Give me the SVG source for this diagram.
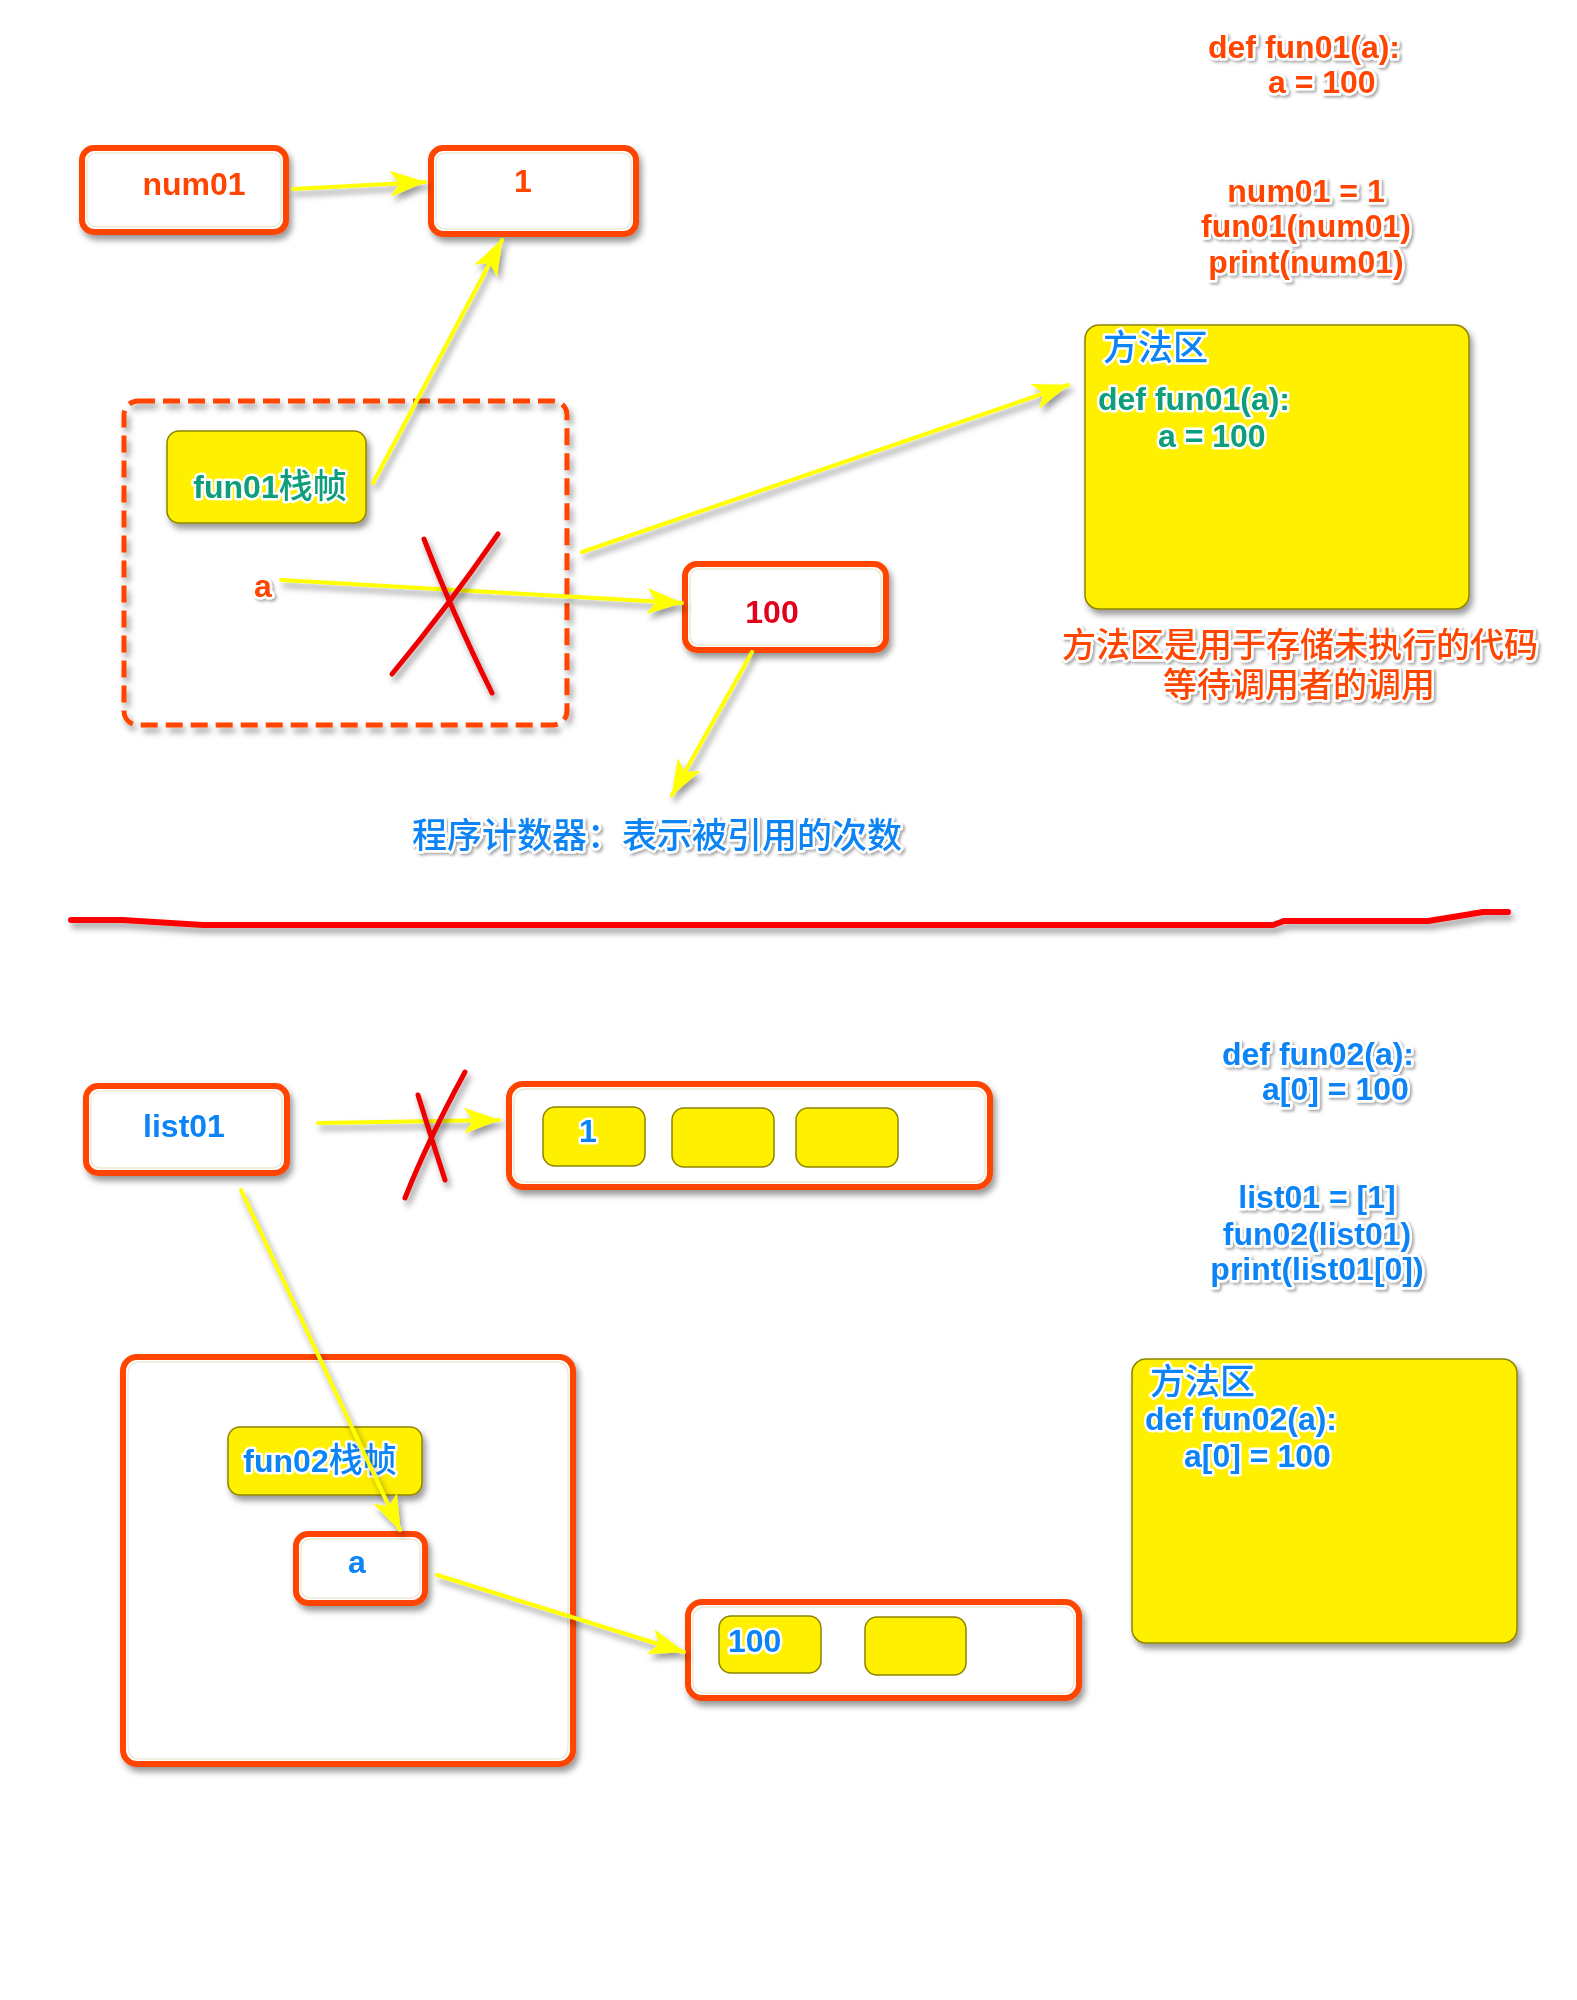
<svg xmlns="http://www.w3.org/2000/svg" width="1577" height="2000" viewBox="0 0 1577 2000">
<defs>
<style>
.t{font-family:"Liberation Sans","Noto Sans CJK SC",sans-serif;font-weight:bold;font-size:32px;stroke:#fff;stroke-width:5px;stroke-linejoin:round;paint-order:stroke;}
.cj{font-family:"Noto Sans CJK SC","Liberation Sans",sans-serif;font-weight:500;font-size:35px;stroke:#fff;stroke-width:5px;stroke-linejoin:round;paint-order:stroke;}
.or{fill:#FF4500;}
.gr{fill:#0B9E7C;}
.bl{fill:#0A84F5;}
.rd{fill:#E3001B;}
.ob{fill:#fff;stroke:#FF4500;stroke-width:6;}
.obi{fill:none;stroke:#EFEAD6;stroke-width:1.5;}
.yb{fill:#FFF000;stroke:#8C8400;stroke-width:1.5;}
.con{fill:none;stroke:#FFFF00;stroke-width:4;stroke-linecap:round;}
.x{fill:none;stroke:#EE0000;stroke-width:5;stroke-linecap:round;}
</style>
<filter id="sh" filterUnits="userSpaceOnUse" x="0" y="0" width="1577" height="2000"><feDropShadow dx="3" dy="5" stdDeviation="3" flood-color="#000" flood-opacity="0.4"/></filter>
<filter id="tsh" filterUnits="userSpaceOnUse" x="0" y="0" width="1577" height="2000"><feDropShadow dx="2" dy="2" stdDeviation="1.5" flood-color="#000" flood-opacity="0.35"/></filter>
<marker id="ah" markerUnits="userSpaceOnUse" markerWidth="40" markerHeight="28" refX="35" refY="13" orient="auto"><path d="M0,0 L36,13 L0,26 L9,13 z" fill="#FFFF00"/></marker>
</defs>
<rect width="1577" height="2000" fill="#fff"/>

<!-- top code -->
<g id="code1" filter="url(#tsh)">
<text class="t or" x="1208" y="58">def fun01(a):</text>
<text class="t or" x="1268" y="93">a = 100</text>
<text class="t or" x="1306" y="202" text-anchor="middle">num01 = 1</text>
<text class="t or" x="1306" y="237" text-anchor="middle">fun01(num01)</text>
<text class="t or" x="1306" y="273" text-anchor="middle">print(num01)</text>
</g>

<g id="num01" filter="url(#sh)">
<rect class="ob" x="82" y="148" width="204" height="84" rx="12"/>
<rect class="obi" x="87" y="153" width="194" height="74" rx="9"/>
<text class="t or" x="194" y="195" text-anchor="middle">num01</text>
</g>

<g id="val1" filter="url(#sh)">
<rect class="ob" x="431" y="148" width="205" height="86" rx="12"/>
<rect class="obi" x="436" y="153" width="195" height="76" rx="9"/>
<text class="t or" x="523" y="192" text-anchor="middle">1</text>
</g>

<g id="frame1">
<rect x="124" y="401" width="443" height="324" rx="14" fill="none" stroke="#FF4500" stroke-width="5" stroke-dasharray="17 8" filter="url(#sh)"/>
</g>

<g id="fun01frame" filter="url(#sh)">
<rect class="yb" x="167" y="431" width="199" height="92" rx="12"/>
<text class="t gr" x="270" y="498" text-anchor="middle">fun01<tspan class="cj" style="font-size:34px">栈帧</tspan></text>
</g>

<g id="a1" filter="url(#tsh)">
<text class="t or" x="263" y="597" text-anchor="middle">a</text>
</g>

<g id="val100" filter="url(#sh)">
<rect class="ob" x="685" y="564" width="201" height="86" rx="12"/>
<rect class="obi" x="690" y="569" width="191" height="76" rx="9"/>
<text class="t rd" x="772" y="623" text-anchor="middle">100</text>
</g>

<g id="method1" filter="url(#sh)">
<rect class="yb" x="1085" y="325" width="384" height="284" rx="14"/>
<text class="cj bl" x="1103" y="360">方法区</text>
<text class="t gr" x="1098" y="410">def fun01(a):</text>
<text class="t gr" x="1158" y="447">a = 100</text>
</g>

<g id="caption1" filter="url(#tsh)">
<text class="cj or" x="1300" y="657" text-anchor="middle" style="font-size:34px">方法区是用于存储未执行的代码</text>
<text class="cj or" x="1299" y="697" text-anchor="middle" style="font-size:34px">等待调用者的调用</text>
</g>

<g id="counter" filter="url(#tsh)">
<text class="cj bl" x="657" y="848" text-anchor="middle">程序计数器：表示被引用的次数</text>
</g>

<!-- bottom code -->
<g id="code2" filter="url(#tsh)">
<text class="t bl" x="1222" y="1065">def fun02(a):</text>
<text class="t bl" x="1262" y="1100">a[0] = 100</text>
<text class="t bl" x="1317" y="1208" text-anchor="middle">list01 = [1]</text>
<text class="t bl" x="1317" y="1245" text-anchor="middle">fun02(list01)</text>
<text class="t bl" x="1317" y="1280" text-anchor="middle">print(list01[0])</text>
</g>

<g id="list01" filter="url(#sh)">
<rect class="ob" x="86" y="1086" width="201" height="87" rx="12"/>
<rect class="obi" x="91" y="1091" width="191" height="77" rx="9"/>
<text class="t bl" x="184" y="1137" text-anchor="middle">list01</text>
</g>

<g id="list1" filter="url(#sh)">
<rect class="ob" x="509" y="1084" width="481" height="103" rx="14"/>
<rect class="obi" x="514" y="1089" width="471" height="93" rx="11"/>
<rect class="yb" x="543" y="1107" width="102" height="59" rx="12"/>
<rect class="yb" x="672" y="1108" width="102" height="59" rx="12"/>
<rect class="yb" x="796" y="1108" width="102" height="59" rx="12"/>
<text class="t bl" x="588" y="1142" text-anchor="middle">1</text>
</g>

<g id="frame2" filter="url(#sh)">
<rect class="ob" x="123" y="1357" width="450" height="407" rx="14"/>
<rect class="obi" x="128" y="1362" width="440" height="397" rx="11"/>
</g>

<g id="fun02frame" filter="url(#sh)">
<rect class="yb" x="228" y="1427" width="194" height="68" rx="12"/>
<text class="t bl" x="320" y="1472" text-anchor="middle">fun02<tspan class="cj" style="font-size:34px">栈帧</tspan></text>
</g>

<g id="a2" filter="url(#sh)">
<rect class="ob" x="296" y="1534" width="129" height="69" rx="12"/>
<rect class="obi" x="301" y="1539" width="119" height="59" rx="9"/>
<text class="t bl" x="357" y="1573" text-anchor="middle">a</text>
</g>

<g id="list2" filter="url(#sh)">
<rect class="ob" x="688" y="1602" width="391" height="96" rx="14"/>
<rect class="obi" x="693" y="1607" width="381" height="86" rx="11"/>
<rect class="yb" x="719" y="1616" width="102" height="57" rx="12"/>
<rect class="yb" x="865" y="1617" width="101" height="58" rx="12"/>
<text class="t bl" x="728" y="1652">100</text>
</g>

<g id="method2" filter="url(#sh)">
<rect class="yb" x="1132" y="1359" width="385" height="284" rx="14"/>
<text class="cj bl" x="1150" y="1394">方法区</text>
<text class="t bl" x="1145" y="1430">def fun02(a):</text>
<text class="t bl" x="1184" y="1467">a[0] = 100</text>
</g>

<g id="connectors" filter="url(#sh)">
<line class="con" x1="293" y1="189" x2="425" y2="182" marker-end="url(#ah)"/>
<line class="con" x1="373" y1="483" x2="502" y2="240" marker-end="url(#ah)"/>
<line class="con" x1="281" y1="580" x2="682" y2="603" marker-end="url(#ah)"/>
<line class="con" x1="582" y1="552" x2="1068" y2="385" marker-end="url(#ah)"/>
<line class="con" x1="752" y1="652" x2="672" y2="795" marker-end="url(#ah)"/>
<line class="con" x1="318" y1="1123" x2="499" y2="1120" marker-end="url(#ah)"/>
<line class="con" x1="241" y1="1190" x2="400" y2="1530" marker-end="url(#ah)"/>
<line class="con" x1="437" y1="1575" x2="684" y2="1652" marker-end="url(#ah)"/>
</g>

<g id="crosses" filter="url(#sh)">
<path class="x" d="M424,539 Q452,612 492,693"/>
<path class="x" d="M498,534 Q447,608 392,674"/>
<path class="x" d="M418,1095 Q432,1140 445,1180"/>
<path class="x" d="M465,1072 Q428,1140 405,1198"/>
</g>

<g id="divider" filter="url(#sh)">
<polyline points="71,920 122,920 203,925 1273,925 1284,921 1428,921 1453,917 1483,912 1508,912" fill="none" stroke="#FF0000" stroke-width="6" stroke-linejoin="round" stroke-linecap="round"/>
</g>
</svg>
